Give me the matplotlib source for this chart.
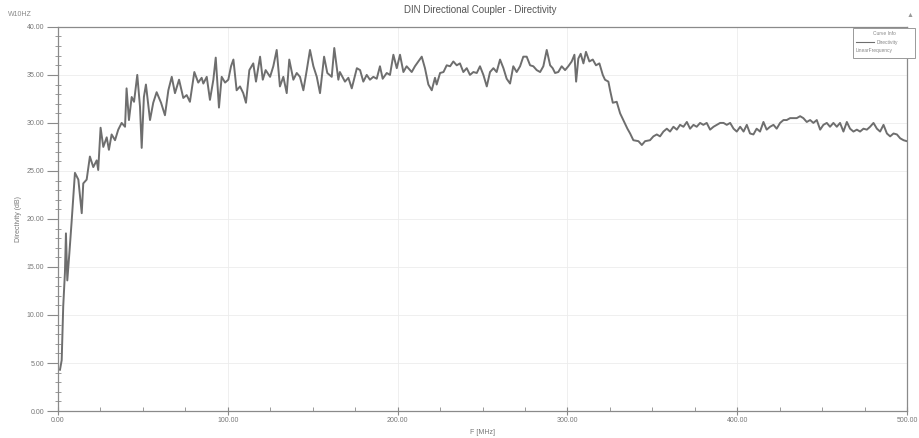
import matplotlib
matplotlib.use("Agg")
import matplotlib.pyplot as plt
from matplotlib.lines import Line2D
from matplotlib.patches import Rectangle
from matplotlib.ticker import MultipleLocator, FormatStrFormatter

plt.rcParams['font.family'] = ['Liberation Sans', 'DejaVu Sans']

# swept frequency (MHz) and measured directivity (dB)
freq_lo = [1.2, 2.2, 3.1, 4.1, 4.7, 5.5, 6.7, 8.0, 10.0, 12.0, 14.0, 14.9, 16.9, 18.8,
           20.8, 22.8, 23.7, 25.1, 26.7, 28.7, 30.0, 31.6, 33.6, 35.5, 37.5, 39.5, 40.4,
           41.8, 43.4, 44.8, 46.7, 48.3, 49.3, 50.6, 51.8, 54.2, 56.1, 58.1, 60.7, 63.0,
           65.0, 67.0, 68.9, 71.3, 73.8, 75.8, 77.7, 80.3, 82.6, 84.6]
dir_lo = [4.3, 5.3, 10.9, 14.4, 18.5, 13.6, 16.4, 19.6, 24.8, 24.1, 20.6, 23.7, 24.1, 26.5,
          25.4, 26.1, 25.1, 29.5, 27.5, 28.5, 27.2, 28.8, 28.2, 29.3, 30.0, 29.6, 33.6,
          30.3, 32.7, 32.2, 35.0, 31.7, 27.4, 32.7, 34.0, 30.3, 32.1, 33.2, 32.1, 30.8,
          33.4, 34.8, 33.1, 34.5, 32.6, 32.9, 32.2, 35.3, 34.2, 34.7]

freq_mid = [85.6, 87.6, 89.5, 91.5, 92.9, 94.8, 96.4, 98.4, 100.3, 101.9, 103.3, 105.2,
            107.2, 109.1, 110.7, 112.7, 115.0, 116.6, 119.0, 120.6, 122.3, 124.9, 126.8,
            128.8, 130.7, 132.7, 134.7, 136.2, 138.6, 140.6, 142.5, 144.5, 146.5, 148.4,
            150.4, 152.4, 154.3, 156.7, 158.6, 161.2, 162.7, 165.1, 166.0, 169.0, 171.0,
            173.0, 176.0, 177.9, 179.8, 181.8, 183.7, 185.7, 187.7, 189.6, 191.2, 193.6,
            195.5, 197.5, 199.5, 201.4, 203.4, 205.3, 208.3, 210.2, 214.2, 216.1, 218.1,
            220.1, 222.0, 223.0, 225.0, 227.0, 228.9, 230.9, 232.8, 234.8, 236.7, 238.7,
            240.7, 242.6, 244.6, 246.6, 248.5, 250.5, 252.5, 254.4, 256.4, 258.3, 260.3,
            262.3, 264.2, 266.2, 268.1, 270.1, 272.1, 274.0, 276.0, 278.0, 279.9, 281.9,
            283.9, 285.8, 287.8, 289.8, 291.3, 292.7, 294.6, 296.6, 298.6, 300.5, 302.5,
            304.1, 305.1, 306.4, 307.8, 309.4, 310.9, 312.9, 314.9, 316.8, 318.8]
dir_mid = [34.1, 34.8, 32.4, 34.5, 36.8, 31.6, 34.8, 34.2, 34.5, 35.9, 36.6, 33.4,
           33.8, 33.1, 32.1, 35.5, 36.2, 34.3, 36.9, 34.5, 35.5, 34.8, 35.9,
           37.6, 33.8, 34.8, 33.1, 36.6, 34.5, 35.2, 34.8, 33.4, 35.5, 37.6,
           35.9, 34.8, 33.1, 36.9, 35.2, 34.8, 37.8, 34.5, 35.3, 34.3, 34.7,
           33.6, 35.7, 35.5, 34.3, 35.0, 34.5, 34.8, 34.6, 35.9, 34.6, 35.2,
           35.0, 37.1, 35.7, 37.1, 35.3, 35.9, 35.3, 35.9, 36.9, 35.7, 34.0,
           33.4, 34.7, 34.0, 35.2, 35.3, 36.0, 35.9, 36.4, 36.0, 36.2, 35.3,
           35.7, 35.0, 35.3, 35.2, 35.9, 35.0, 33.8, 35.3, 35.7, 35.3, 36.6,
           35.7, 34.6, 34.1, 35.9, 35.3, 35.9, 36.9, 36.9, 36.0, 35.9, 35.5,
           35.3, 35.9, 37.6, 36.0, 35.7, 35.2, 35.3, 35.9, 35.5, 35.9, 36.4,
           37.1, 34.3, 36.7, 37.2, 36.2, 37.4, 36.4, 36.6, 36.0, 36.2]

freq_hi = [320.8, 322.1, 324.1, 325.1, 326.7, 329.0, 331.0, 332.9, 335.3, 336.9, 338.8,
           341.8, 343.8, 345.7, 348.6, 350.6, 352.6, 354.5, 356.5, 358.5, 360.4, 362.4,
           364.4, 366.3, 368.3, 370.3, 372.2, 374.2, 376.1, 378.1, 380.0, 382.0, 384.0,
           386.0, 387.9, 389.9, 391.9, 393.8, 395.8, 397.8, 399.7, 401.7, 403.7, 405.6,
           407.5, 409.5, 411.4, 413.4, 415.4, 417.3, 419.3, 421.3, 423.2, 425.2, 427.2,
           429.1, 431.1, 433.0, 435.0, 437.0, 438.9, 440.9, 442.9, 444.8, 446.8, 448.8,
           450.7, 452.7, 454.6, 456.6, 458.6, 460.5, 462.5, 464.5, 466.4, 468.4, 470.4,
           472.3, 474.3, 476.3, 478.2, 480.2, 482.2, 484.1, 486.1, 488.1, 490.0, 492.0,
           494.0, 495.9, 497.9, 499.8]
dir_hi = [35.0, 34.5, 34.3, 33.4, 32.1, 32.2, 31.0, 30.3, 29.4, 28.9, 28.2,
          28.1, 27.7, 28.1, 28.2, 28.6, 28.8, 28.6, 29.1, 29.4, 29.1, 29.6,
          29.3, 29.8, 29.6, 30.1, 29.4, 29.8, 29.6, 30.0, 29.8, 30.0, 29.3,
          29.6, 29.8, 30.0, 30.0, 29.8, 30.0, 29.4, 29.1, 29.6, 29.1, 29.8,
          28.9, 28.8, 29.4, 29.1, 30.1, 29.3, 29.6, 29.8, 29.4, 30.0, 30.3,
          30.3, 30.5, 30.5, 30.5, 30.7, 30.5, 30.1, 30.3, 30.0, 30.3, 29.3,
          29.8, 30.0, 29.6, 30.0, 29.6, 30.0, 29.1, 30.1, 29.4, 29.1, 29.3,
          29.1, 29.4, 29.3, 29.6, 30.0, 29.4, 29.1, 29.8, 28.9, 28.6, 28.9,
          28.8, 28.4, 28.2, 28.1]

freq = freq_lo + freq_mid + freq_hi
directivity = dir_lo + dir_mid + dir_hi

fig = plt.figure(figsize=(9.2, 4.38), dpi=100)
ax = fig.add_axes([0.063, 0.0616, 0.923, 0.877])

ax.plot(freq, directivity, color='#6e6e6e', lw=1.4, solid_joinstyle='round')

ax.set_xlim(0, 500)
ax.set_ylim(0, 40)
ax.xaxis.set_major_locator(MultipleLocator(100))
ax.xaxis.set_minor_locator(MultipleLocator(25))
ax.yaxis.set_major_locator(MultipleLocator(5))
ax.yaxis.set_minor_locator(MultipleLocator(1))
ax.xaxis.set_major_formatter(FormatStrFormatter('%.2f'))
ax.yaxis.set_major_formatter(FormatStrFormatter('%.2f'))

tick_col = '#8a8a8a'
ax.tick_params(axis='y', which='major', direction='out', length=8, width=0.8,
               colors=tick_col, labelsize=5, labelcolor='#777777', pad=2)
ax.tick_params(axis='x', which='major', direction='inout', length=6, width=0.8,
               colors=tick_col, labelsize=5, labelcolor='#777777', pad=1)
ax.tick_params(axis='y', which='minor', direction='inout', length=5, width=0.6,
               colors=tick_col)
ax.tick_params(axis='x', which='minor', direction='in', length=3, width=0.6,
               colors=tick_col)
for s in ax.spines.values():
    s.set_color('#8a8a8a')
    s.set_linewidth(0.9)

ax.grid(True, which='major', color='#ececec', lw=0.6)
ax.set_axisbelow(True)

ax.set_xlabel('F [MHz]', fontsize=5, color='#777777')
ax.xaxis.set_label_coords(0.5, -0.046)
ax.set_ylabel('Directivity (dB)', fontsize=5, color='#777777', labelpad=3)

fig.text(0.522, 0.978, 'DIN Directional Coupler - Directivity', ha='center', va='center',
         fontsize=7, color='#555555')
fig.text(0.009, 0.968, 'W10HZ', ha='left', va='center', fontsize=5, color='#888888')
fig.text(0.989, 0.965, '\u25b2', ha='center', va='center', fontsize=5, color='#999999')

# legend box in the upper right corner
leg_box = Rectangle((0.927, 0.868), 0.068, 0.068, transform=fig.transFigure,
                    facecolor='white', edgecolor='#999999', lw=0.7, zorder=5)
fig.patches.append(leg_box)
fig.text(0.961, 0.924, 'Curve Info', ha='center', va='center', fontsize=3.5,
         color='#888888', zorder=6)
fig.lines.append(Line2D([0.930, 0.950], [0.903, 0.903], transform=fig.transFigure,
                        color='#6e6e6e', lw=0.8, zorder=6))
fig.text(0.953, 0.903, 'Directivity', ha='left', va='center', fontsize=3.5,
         color='#888888', zorder=6)
fig.text(0.930, 0.884, 'LinearFrequency', ha='left', va='center', fontsize=3.5,
         color='#888888', zorder=6)

fig.savefig('out.png', dpi=100, facecolor='white')
